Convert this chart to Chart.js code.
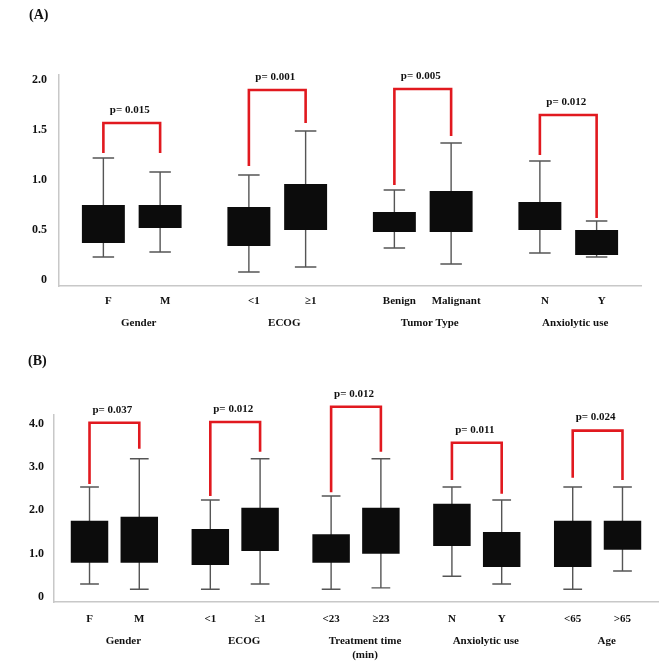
<!DOCTYPE html>
<html><head><meta charset="utf-8">
<script src="https://cdn.jsdelivr.net/npm/chart.js@4.4.1/dist/chart.umd.min.js"></script>
<style>
html,body{margin:0;padding:0;background:#fff;width:668px;height:661px;overflow:hidden;position:relative;}
canvas{position:absolute;left:0;}
.tag{position:absolute;font:bold 14px 'Liberation Serif','Times New Roman',serif;line-height:16px;color:#111;}
</style></head><body>
<canvas id="ca" width="668" height="335" style="top:0"></canvas>
<canvas id="cb" width="668" height="326" style="top:335px"></canvas>
<div class="tag" style="left:29px;top:7px">(A)</div>
<div class="tag" style="left:28px;top:353px">(B)</div>
<script>
// ---------- Panel A data ----------
const groupsA = ['Gender', 'ECOG', 'Tumor Type', 'Anxiolytic use'];
const levels1A = ['F', '<1', 'Benign', 'N'];
const levels2A = ['M', '\u22651', 'Malignant', 'Y'];
const min1A = [0.23, 0.08, 0.32, 0.27];
const q1_1A = [0.37, 0.34, 0.48, 0.50];
const q3_1A = [0.75, 0.73, 0.68, 0.78];
const max1A = [1.22, 1.05, 0.90, 1.19];
const min2A = [0.28, 0.13, 0.16, 0.23];
const q1_2A = [0.52, 0.50, 0.48, 0.25];
const q3_2A = [0.75, 0.96, 0.89, 0.50];
const max2A = [1.08, 1.49, 1.37, 0.59];
const brTopA = [1.57, 1.90, 1.91, 1.65];
const brLeftA = [1.27, 1.14, 0.95, 1.25];
const brRightA = [1.27, 1.57, 1.44, 0.62];
const pA = ['p= 0.015', 'p= 0.001', 'p= 0.005', 'p= 0.012'];
const yTicksA = [0, 0.5, 1.0, 1.5, 2.0];
const yTickLabelsA = ['0', '0.5', '1.0', '1.5', '2.0'];

// ---------- Panel B data ----------
const groupsB = ['Gender', 'ECOG', ['Treatment time', '(min)'], 'Anxiolytic use', 'Age'];
const levels1B = ['F', '<1', '<23', 'N', '<65'];
const levels2B = ['M', '\u22651', '\u226523', 'Y', '>65'];
const min1B = [0.30, 0.18, 0.18, 0.48, 0.18];
const q1_1B = [0.79, 0.74, 0.79, 1.18, 0.69];
const q3_1B = [1.76, 1.57, 1.45, 2.15, 1.76];
const max1B = [2.54, 2.24, 2.33, 2.54, 2.54];
const min2B = [0.18, 0.30, 0.21, 0.30, 0.60];
const q1_2B = [0.79, 1.06, 1.00, 0.69, 1.09];
const q3_2B = [1.85, 2.06, 2.06, 1.50, 1.76];
const max2B = [3.19, 3.19, 3.19, 2.24, 2.54];
const brTopB = [4.02, 4.04, 4.39, 3.56, 3.84];
const brLeftB = [2.61, 2.33, 2.42, 2.70, 2.75];
const brRightB = [3.42, 3.35, 3.35, 2.38, 2.70];
const pB = ['p= 0.037', 'p= 0.012', 'p= 0.012', 'p= 0.011', 'p= 0.024'];
const yTicksB = [0, 1.0, 2.0, 3.0, 4.0];
const yTickLabelsB = ['0', '1.0', '2.0', '3.0', '4.0'];

const FONT = "'Liberation Serif','Times New Roman',serif";
Chart.defaults.font.family = FONT;
Chart.defaults.font.weight = 'bold';
Chart.defaults.color = '#111';

function pairs(a, b) { return a.map((v, i) => [v, b[i]]); }

function makePlugin(s) {
  return {
    id: 'boxplotExtras',
    beforeDatasetsDraw(chart) {
      const ctx = chart.ctx, y = chart.scales.y;
      ctx.save();
      ctx.strokeStyle = '#555';
      ctx.lineWidth = 1.4;
      [[s.min1, s.max1], [s.min2, s.max2]].forEach((mm, d) => {
        chart.getDatasetMeta(d).data.forEach((bar, i) => {
          const p = bar.getProps(['x', 'width'], true);
          const yl = y.getPixelForValue(mm[0][i]);
          const yh = y.getPixelForValue(mm[1][i]);
          const c = p.width / 4;
          ctx.beginPath();
          ctx.moveTo(p.x, yl); ctx.lineTo(p.x, yh);
          ctx.moveTo(p.x - c, yl); ctx.lineTo(p.x + c, yl);
          ctx.moveTo(p.x - c, yh); ctx.lineTo(p.x + c, yh);
          ctx.stroke();
        });
      });
      ctx.restore();
    },
    afterDatasetsDraw(chart) {
      const ctx = chart.ctx, y = chart.scales.y, x = chart.scales.x;
      const m0 = chart.getDatasetMeta(0).data, m1 = chart.getDatasetMeta(1).data;
      ctx.save();
      ctx.strokeStyle = '#e1191f';
      ctx.lineWidth = 2.6;
      ctx.lineJoin = 'miter';
      ctx.font = 'bold 11px ' + FONT;
      ctx.fillStyle = '#111';
      ctx.textAlign = 'center';
      ctx.textBaseline = 'middle';
      m0.forEach((b0, i) => {
        const x1 = b0.x, x2 = m1[i].x;
        const yt = y.getPixelForValue(s.brTop[i]);
        ctx.beginPath();
        ctx.moveTo(x1, y.getPixelForValue(s.brLeft[i]));
        ctx.lineTo(x1, yt);
        ctx.lineTo(x2, yt);
        ctx.lineTo(x2, y.getPixelForValue(s.brRight[i]));
        ctx.stroke();
        ctx.fillText(s.p[i], (x1 + x2) / 2 - 2, yt - 13);
      });
      // level labels under each box
      [s.lev1, s.lev2].forEach((labs, d) => {
        chart.getDatasetMeta(d).data.forEach((bar, i) => {
          ctx.fillText(labs[i], bar.x + s.subDx, x.top + s.subDy);
        });
      });
      ctx.restore();
    }
  };
}

function makeChart(id, s) {
  return new Chart(document.getElementById(id), {
    type: 'bar',
    data: {
      labels: s.groups,
      datasets: [
        { data: pairs(s.q1a, s.q3a), backgroundColor: '#0c0c0c', borderWidth: 0 },
        { data: pairs(s.q1b, s.q3b), backgroundColor: '#0c0c0c', borderWidth: 0 }
      ]
    },
    options: {
      responsive: false,
      animation: false,
      events: [],
      categoryPercentage: s.catPct,
      barPercentage: s.barPct,
      layout: { padding: { top: s.padTop, right: s.padRight, left: 0, bottom: 0 } },
      plugins: { legend: { display: false }, tooltip: { enabled: false } },
      scales: {
        x: {
          grid: { display: false, drawTicks: false },
          border: { display: true, color: '#c8c8c8', width: 1.5 },
          ticks: { padding: s.labelPad, labelOffset: s.labelOffset, maxRotation: 0, autoSkip: false,
                   font: { size: 11, weight: 'bold', lineHeight: 1.27 }, color: '#111' },
          afterFit(sc) { sc.height = s.xAxisH; }
        },
        y: {
          min: s.yMin, max: s.yMax, stacked: false,
          grid: { display: false, drawTicks: false },
          border: { display: true, color: '#c8c8c8', width: 1.5 },
          ticks: { padding: s.yPad, font: { size: 12, weight: 'bold' }, color: '#111',
                   callback: (v, i) => s.tickLabels[i] },
          afterBuildTicks(sc) { sc.ticks = s.ticks.map(v => ({ value: v })); },
          afterFit(sc) { sc.width = s.yAxisW; }
        }
      }
    },
    plugins: [makePlugin(s)]
  });
}

makeChart('ca', {
  groups: groupsA, lev1: levels1A, lev2: levels2A,
  q1a: q1_1A, q3a: q3_1A, q1b: q1_2A, q3b: q3_2A,
  min1: min1A, max1: max1A, min2: min2A, max2: max2A,
  brTop: brTopA, brLeft: brLeftA, brRight: brRightA, p: pA,
  ticks: yTicksA, tickLabels: yTickLabelsA,
  yMin: -0.06, yMax: 2.05, padTop: 75, padRight: 27, xAxisH: 49, yAxisW: 59, yPad: 12,
  catPct: 0.78, barPct: 0.757, labelPad: 30, labelOffset: 7, subDx: 5, subDy: 15
});

makeChart('cb', {
  groups: groupsB, lev1: levels1B, lev2: levels2B,
  q1a: q1_1B, q3a: q3_1B, q1b: q1_2B, q3b: q3_2B,
  min1: min1B, max1: max1B, min2: min2B, max2: max2B,
  brTop: brTopB, brLeft: brLeftB, brRight: brRightB, p: pB,
  ticks: yTicksB, tickLabels: yTickLabelsB,
  yMin: -0.115, yMax: 4.2, padTop: 80, padRight: 10, xAxisH: 59, yAxisW: 54, yPad: 10,
  catPct: 0.824, barPct: 0.753, labelPad: 32, labelOffset: 9, subDx: 0, subDy: 17
});
</script>
</body></html>
